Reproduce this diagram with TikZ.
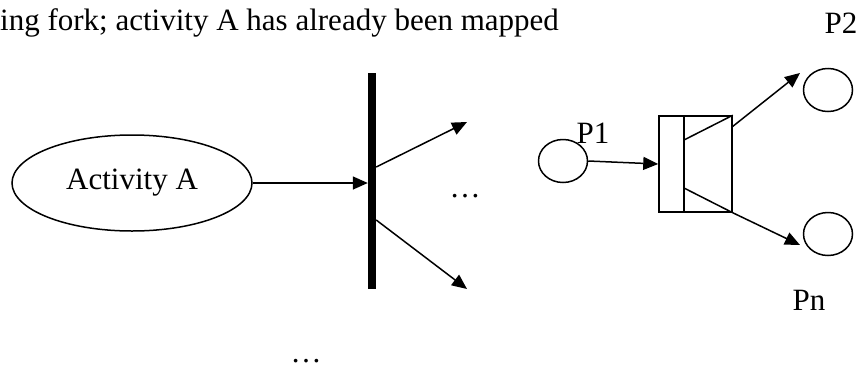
\documentclass[tikz,border=0pt]{standalone}
\usepackage{fontspec}
\setmainfont{Liberation Serif}
\usetikzlibrary{arrows.meta,shapes.geometric}
\begin{document}
\begin{tikzpicture}[x=1pt,y=-1pt,
  lbl/.style={font=\fontsize{31}{37}\selectfont, inner sep=0pt},
  ln/.style={line width=1.5pt},
  arr/.style={ln,-{Triangle[length=15pt,width=13pt]}},
  place/.style={draw, ln, ellipse, minimum width=49pt, minimum height=43pt, inner sep=0pt}]
\useasboundingbox (0,0) rectangle (865,370);
\node[lbl, anchor=west] (title) at (0,23) {ing fork; activity A has already been mapped};
\node[lbl] (p2lbl) at (841,23) {P2};
\node[draw, ln, ellipse, minimum width=240pt, minimum height=96pt, inner sep=0pt, lbl] (A) at (132,183) {Activity A};
\node[fill=black, minimum width=8pt, minimum height=216pt, inner sep=0pt] (bar) at (372,181) {};
\coordinate (u1) at (467,122);
\coordinate (u2) at (467,289);
\draw[arr] (A.east) -- (A.east -| bar.west);
\draw[arr] ([yshift=14pt]bar.east) -- (u1);
\draw[arr] ([yshift=-39pt]bar.east) -- (u2);
\node[lbl] (dots1) at (465,196) {…};
\node[lbl] (dots2) at (306,361) {…};
% right part
\node[place] (P1) at (563,161) {};
\node[lbl] (p1lbl) at (593,133) {P1};
\node[draw, ln, minimum width=73pt, minimum height=96pt, inner sep=0pt] (box) at (695.5,164) {};
\coordinate (bt) at (684,116);
\coordinate (bb) at (684,212);
\draw[ln] (bt) -- (bb);
\coordinate (i1) at (684,140);
\coordinate (i2) at (684,188);
\draw[ln] (i1) -- (box.north east);
\draw[ln] (i2) -- (box.south east);
\draw[arr] (P1.east) -- (box.west);
\node[place] (P2) at (828,90) {};
\node[place] (Pn) at (828,234) {};
\coordinate (t2) at (800,73);
\coordinate (tn) at (800,245);
\coordinate (s2) at (732,127);
\draw[arr] (s2) -- (t2);
\draw[arr] (box.south east) -- (tn);
\node[lbl] (pnlbl) at (809,300) {Pn};
\end{tikzpicture}
\end{document}
